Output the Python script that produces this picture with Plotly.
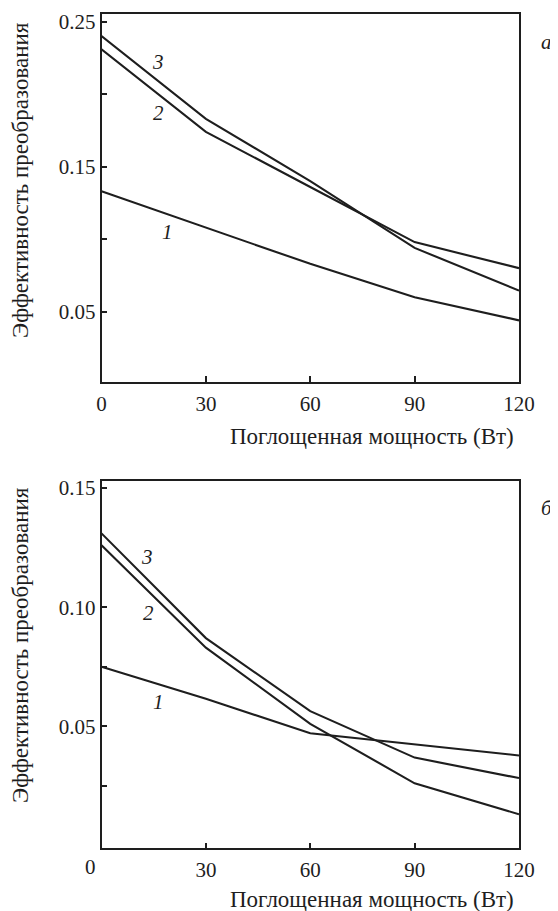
import plotly.graph_objects as go

# Data
power = [0, 30, 60, 90, 120]
top_c1 = [0.133, 0.108, 0.083, 0.060, 0.044]
top_c2 = [0.231, 0.174, 0.136, 0.098, 0.080]
top_c3 = [0.240, 0.183, 0.140, 0.094, 0.0645]
bot_c1 = [0.075, 0.0615, 0.047, 0.0425, 0.0377]
bot_c2 = [0.126, 0.083, 0.051, 0.026, 0.013]
bot_c3 = [0.131, 0.087, 0.0563, 0.0368, 0.0282]
x_ticks = [0, 30, 60, 90, 120]
x_ticklabels = ["0", "30", "60", "90", "120"]
top_yticks = [0.05, 0.10, 0.15, 0.20, 0.25]
top_yticklabels = ["0.05", "", "0.15", "", "0.25"]
bot_yticks = [0.025, 0.05, 0.075, 0.10, 0.15]
bot_yticklabels = ["", "0.05", "", "0.10", "0.15"]
xlabel = "Поглощенная мощность (Вт)"
ylabel = "Эффективность преобразования"

W, H = 558, 911
OFF = 8  # page body margin
FONT = "Liberation Serif, Times New Roman, Times, serif"
INK = "#1e1e1e"

def px(xp):
    return (xp - OFF) / W

def py(yp):
    return 1 - (yp - OFF) / H

fig = go.Figure()
line = dict(color=INK, width=2.1)
for ys in (top_c1, top_c2, top_c3):
    fig.add_trace(go.Scatter(x=power, y=ys, mode="lines", line=line,
                             xaxis="x", yaxis="y", showlegend=False, hoverinfo="skip"))
for ys in (bot_c1, bot_c2, bot_c3):
    fig.add_trace(go.Scatter(x=power, y=ys, mode="lines", line=line,
                             xaxis="x2", yaxis="y2", showlegend=False, hoverinfo="skip"))

tickfont = dict(family=FONT, size=21, color=INK)
xcommon = dict(range=[0, 120], showline=True, mirror=True, linecolor=INK, linewidth=1.5,
               ticks="inside", ticklen=6, tickcolor=INK, tickwidth=1.5, automargin=False,
               showgrid=False, zeroline=False, tickfont=tickfont, tickvals=x_ticks,
               ticklabelstandoff=2)
ycommon = dict(showline=True, mirror=True, linecolor=INK, linewidth=1.5,
               ticks="inside", ticklen=6, tickcolor=INK, tickwidth=1.5, automargin=False,
               showgrid=False, zeroline=False, tickfont=tickfont)

fig.update_layout(
    width=W, height=H,
    margin=dict(l=0, r=0, t=0, b=0, pad=0, autoexpand=False),
    paper_bgcolor="white", plot_bgcolor="white",
    font=dict(family=FONT, color=INK),
    xaxis=dict(domain=[px(101.5), px(519)], anchor="y", ticktext=x_ticklabels, **xcommon),
    yaxis=dict(domain=[py(382), py(14)], anchor="x", range=[0.0015, 0.2553],
               tickvals=top_yticks, ticktext=top_yticklabels, **ycommon),
    xaxis2=dict(domain=[px(101.5), px(519)], anchor="y2",
                ticktext=[""] + x_ticklabels[1:], **xcommon),
    yaxis2=dict(domain=[py(848.3), py(481)], anchor="x2", range=[-0.0013, 0.153],
                tickvals=bot_yticks, ticktext=bot_yticklabels, **ycommon),
)

ann = []
labfont = dict(family=FONT, size=23, color=INK)
numfont = dict(family=FONT, size=21, color=INK)
itfont = dict(family=FONT, size=21, color=INK, style="italic")
C = dict(xanchor="center", yanchor="middle", showarrow=False)
# axis titles
for yc in (180, 645):
    ann.append(dict(text=ylabel, x=px(20), y=py(yc), xref="paper", yref="paper",
                    textangle=-90, font=labfont, **C))
for yc in (436, 899):
    ann.append(dict(text=xlabel, x=px(372), y=py(yc), xref="paper", yref="paper",
                    font=labfont, **C))
# shifted "0" tick label on lower axis
ann.append(dict(text="0", x=px(90), y=py(867), xref="paper", yref="paper",
                font=numfont, **C))
# panel letters
ann.append(dict(text="а", x=px(546), y=py(42), xref="paper", yref="paper",
                font=itfont, **C))
ann.append(dict(text="б", x=px(547), y=py(508), xref="paper", yref="paper",
                font=itfont, **C))
# curve numbers
for t, xx, yy in (("3", 16.1, 0.222), ("2", 16.4, 0.187), ("1", 19.0, 0.105)):
    ann.append(dict(text=t, x=xx, y=yy, xref="x", yref="y", font=itfont, **C))
for t, xx, yy in (("3", 13.1, 0.121), ("2", 13.5, 0.0974), ("1", 16.4, 0.0602)):
    ann.append(dict(text=t, x=xx, y=yy, xref="x2", yref="y2", font=itfont, **C))
fig.update_layout(annotations=ann)

fig.write_html("out.html")
